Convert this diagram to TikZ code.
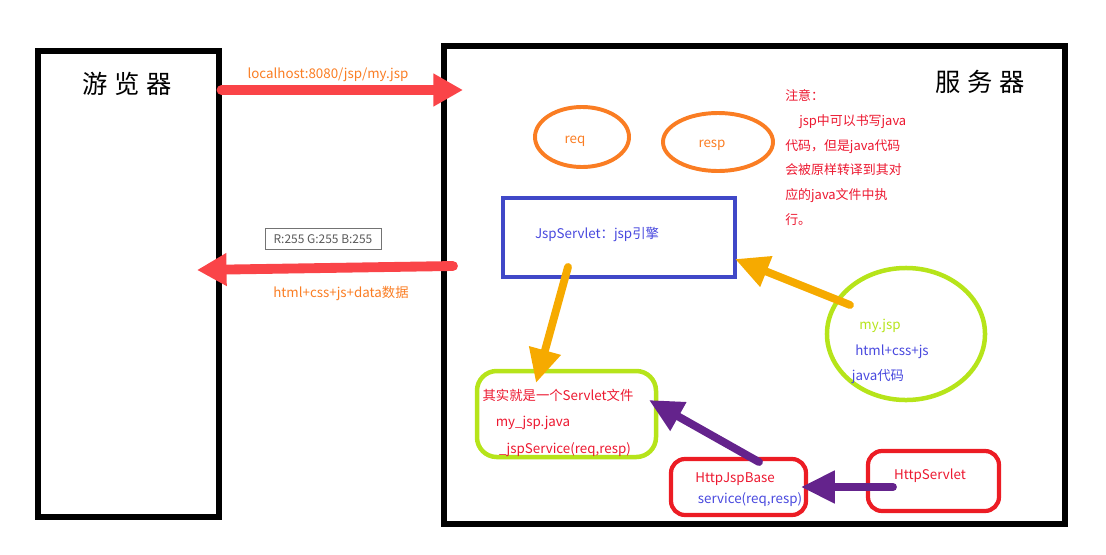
\documentclass[tikz,border=0pt]{standalone}
\usepackage{fontspec}
\setmainfont{Noto Sans CJK SC}
\usepackage{xcolor}
\definecolor{jsred}{RGB}{250,68,72}
\definecolor{jsorange}{RGB}{250,125,35}
\definecolor{jsnote}{RGB}{236,24,48}
\definecolor{jsblue}{RGB}{64,72,200}
\definecolor{jstext}{RGB}{72,72,222}
\definecolor{jslime}{RGB}{182,228,26}
\definecolor{jsgold}{RGB}{246,170,0}
\definecolor{jspurple}{RGB}{100,35,140}
\definecolor{jsbox}{RGB}{236,28,36}
\usetikzlibrary{arrows.meta,positioning,shapes.geometric,calc,fit}

\begin{document}
\begin{tikzpicture}[x=0.025cm, y=-0.025cm,
  frame/.style={draw=black, line width=3.6pt, inner sep=0pt},
  title/.style={font=\fontsize{18}{21}\selectfont, text=black, inner sep=0pt},
  lbl/.style={font=\fontsize{9.5}{11}\selectfont, inner sep=0pt},
  bigarrow/.style={line width=7pt, line cap=round, -{Triangle[length=21pt,width=22pt]}},
  midarrow/.style={line width=5.6pt, line cap=round, -{Triangle[length=24pt,width=22pt]}}]
  \useasboundingbox (0,0) rectangle (1106,554);

  %% --- BROWSER / SERVER ---
  \node[frame, fit={(38,51) (219,517)}] (browser) {};
  \node[frame, fit={(444,46) (1065,524)}] (server) {};
  \node[title] (browsertitle) at (127,84) {游\hspace{5pt}览\hspace{5pt}器};
  \node[title] (servertitle)  at (980,82) {服\hspace{5pt}务\hspace{5pt}器};

  %% --- REQUEST / RESPONSE ---
  \coordinate (urlin)   at (463,90);
  \coordinate (respout) at (453,266);
  \coordinate (respin)  at (197,270);
  \draw[bigarrow, jsred] (urlin -| browser.east) -- (urlin);
  \draw[bigarrow, jsred] (respout) -- (respin);
  \node[lbl, text=jsorange] (url) at (328,75) {localhost:8080/jsp/my.jsp};
  \node[draw=black!55, line width=0.6pt, font=\fontsize{8.5}{10}\selectfont, text=black!65, minimum width=2.9cm, minimum height=0.52cm, inner sep=0pt] (rgb) at (323,239) {R:255 G:255 B:255};
  \node[lbl, text=jsorange] (payload) at (341,293) {html+css+js+data数据};

  %% --- REQ / RESP OBJECTS ---
  \node[ellipse, draw=jsorange, line width=2.8pt, minimum width=2.35cm, minimum height=1.5cm, inner sep=0pt] (req) at (582,137) {};
  \node[ellipse, draw=jsorange, line width=2.8pt, minimum width=2.75cm, minimum height=1.45cm, inner sep=0pt] (resp) at (718,142) {};
  \node[lbl, text=jsorange] (reqtext)  at (575,141) {req};
  \node[lbl, text=jsorange] (resptext) at (712,145) {resp};

  %% --- NOTE ---
  \node[lbl, text=jsnote, anchor=north west, align=left, font=\fontsize{9.2}{17.7}\selectfont] (note) at (785,89)
    {注意：\\\hspace{10pt}jsp中可以书写java\\代码，但是java代码\\会被原样转译到其对\\应的java文件中执\\行。};

  %% --- ENGINE ---
  \node[draw=jsblue, line width=3pt, fit={(503,198) (735,277)}, inner sep=0pt] (engine) {};
  \node[lbl, text=jstext] (enginetext) at (597,234) {JspServlet：jsp引擎};

  %% --- MY.JSP ---
  \node[ellipse, draw=jslime, line width=3.2pt, minimum width=3.95cm, minimum height=3.3cm, inner sep=0pt] (myjsp) at (906,334) {};
  \node[lbl, text=jslime] (myjspname) at (880,326) {my.jsp};
  \node[lbl, text=jstext] (myjspweb)  at (892,352) {html+css+js};
  \node[lbl, text=jstext] (myjspjava) at (878,377) {java代码};

  %% --- TRANSLATED SERVLET ---
  \node[draw=jslime, line width=3.2pt, rounded corners=14pt, fit={(477,371) (656,457)}, inner sep=0pt] (servletfile) {};
  \node[lbl, text=jsnote] (servletline1) at (558,395) {其实就是一个Servlet文件};
  \node[lbl, text=jsnote] (servletline2) at (533,423) {my\_jsp.java};
  \node[lbl, text=jsnote] (servletline3) at (565,450) {\_jspService(req,resp)};

  %% --- BASE CLASSES ---
  \node[draw=jsbox, line width=3pt, rounded corners=10pt, fit={(671,459) (806,515)}, inner sep=0pt] (jspbase) {};
  \node[draw=jsbox, line width=3pt, rounded corners=10pt, fit={(868,451) (999,511)}, inner sep=0pt] (httpservlet) {};
  \node[lbl, text=jsnote] (jspbasename)  at (735,479) {HttpJspBase};
  \node[lbl, text=jstext] (jspbasecall)  at (750,500) {service(req,resp)};
  \node[lbl, text=jsnote] (httpservletname) at (930,476) {HttpServlet};

  %% --- FLOW ARROWS ---
  \coordinate (enginefrom)  at (568,267);
  \coordinate (servletto)   at (536,383);
  \coordinate (jspfrom)     at (850,305);
  \coordinate (engineto)    at (735,259);
  \coordinate (basefrom)    at (759,462);
  \coordinate (servletin)   at (649,400);
  \coordinate (httpfrom)    at (893,487);
  \coordinate (basein)      at (801,487);
  \draw[midarrow, jsgold]   (enginefrom) -- (servletto);
  \draw[midarrow, jsgold]   (jspfrom) -- (engineto);
  \draw[midarrow, jspurple] (basefrom) -- (servletin);
  \draw[midarrow, jspurple] (httpfrom) -- (basein);
\end{tikzpicture}
\end{document}
